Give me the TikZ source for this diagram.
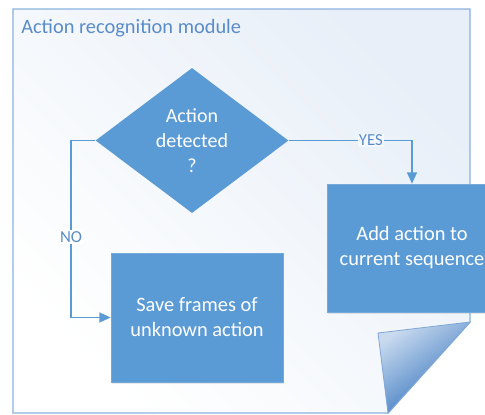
\documentclass[tikz,border=0pt]{standalone}
\usepackage{fontspec}
\setmainfont{Carlito}
\usetikzlibrary{shapes.geometric,arrows.meta,shadows}
\definecolor{boxblue}{HTML}{5B9BD5}
\definecolor{lineblue}{HTML}{5B9BD5}
\definecolor{framblue}{HTML}{8AB2E0}
\definecolor{titleblue}{HTML}{5A8CC8}
\definecolor{bgblue}{HTML}{E8EFF8}
\definecolor{foldlight}{HTML}{C9DAEF}
\definecolor{foldmid}{HTML}{6FA3DC}
\definecolor{folddark}{HTML}{2A6DBA}
\tikzset{
  box/.style={rectangle, fill=boxblue, draw=boxblue!85!white, line width=0.5pt, text=white,
    align=center, font=\fontsize{15.3}{18.75}\selectfont, inner sep=0pt,
    drop shadow={opacity=0.18, shadow xshift=1pt, shadow yshift=-1.2pt}},
  decision/.style={diamond, fill=boxblue, text=white, align=center, aspect=1.33, inner sep=0pt,
    font=\fontsize{15}{18.75}\selectfont},
  conn/.style={draw=lineblue, line width=1.1pt, -{Triangle[width=7.5pt,length=8.5pt]}},
  lbl/.style={text=titleblue, font=\fontsize{12.6}{14}\selectfont, inner sep=1pt},
}
\begin{document}
\begin{tikzpicture}[x=0.75pt,y=-0.75pt]
\useasboundingbox (0,0) rectangle (485,414);
\clip (0,0) rectangle (485,414);
\fill[white] (0,0) rectangle (485,414);
% page frame
\shade[top color=bgblue, bottom color=white, shading angle=-45]
  (13,9) -- (470,9) -- (470,322) -- (388,413) -- (13,413) -- cycle;
\draw[framblue, line width=1.1pt]
  (13,9) -- (470,9) -- (470,322) -- (388,413) -- (13,413) -- cycle;
% folded corner
\shade[top color=foldlight, middle color=foldmid, bottom color=folddark, shading angle=35]
  (378,333) -- (470,322) -- (388,413) -- cycle;
\draw[folddark!60!white, line width=0.6pt] (378,333) -- (470,322) -- (388,413) -- cycle;
% title
\node[anchor=base west, text=titleblue, font=\fontsize{15.3}{18}\selectfont, inner sep=0pt]
  (title) at (21,33) {Action recognition module};
% nodes
\node[decision, minimum width=193*0.75pt, minimum height=145*0.75pt] (d) at (192,140.5)
  {Action\\detected\\?};
\node[box, minimum width=170*0.75pt, minimum height=128*0.75pt] (r) at (412,248)
  {Add action to\\current sequence};
\node[box, minimum width=172*0.75pt, minimum height=129*0.75pt] (l) at (197,317.5)
  {Save frames of\\unknown action};
\coordinate (nc) at (71,317.5);
% connectors
\draw[conn] (d.east) -| (r.north) node[lbl, pos=0.333, fill=bgblue!45!white] {YES};
\draw[conn] (d.west) -| (nc) node[lbl, pos=0.773, fill=white] {NO} -- (l.west);
\end{tikzpicture}
\end{document}
